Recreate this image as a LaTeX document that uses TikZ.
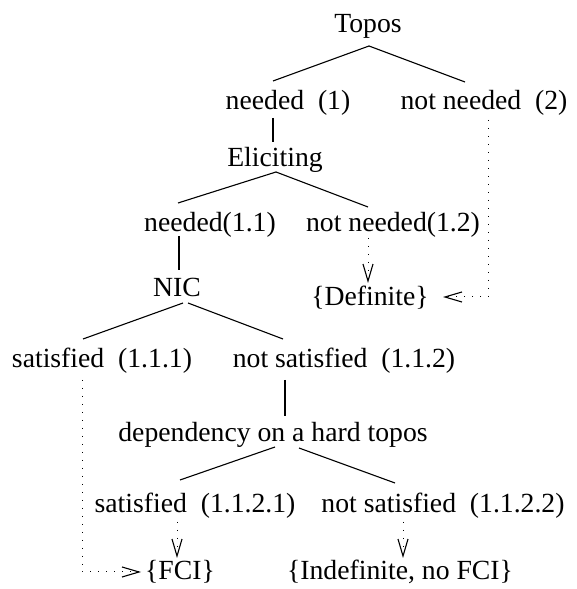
\documentclass[tikz,border=0pt]{standalone}
\usepackage{fontspec}
\setmainfont{Liberation Serif}
\usetikzlibrary{calc,arrows.meta}

\tikzset{
    treetext/.style={inner sep=0pt, anchor=base, font=\fontsize{27.7}{33}\selectfont},
    branch/.style={line width=1.1pt},
    pointer/.style={line width=1pt, dash pattern=on 1.2pt off 6.8pt,
        -{Straight Barb[length=17pt,width=10pt,line width=1.1pt]}}
}

\begin{document}
\begin{tikzpicture}[x=1pt,y=1pt]

    \useasboundingbox (0,0) rectangle (576,589);

    % Ebene 0 und 1
    \node[treetext] (topos) at (368,556) {Topos};
    \node[treetext] (need1) at (288,479) {needed~~(1)};
    \node[treetext] (noneed2) at (484,479) {not needed~~(2)};

    % Eliciting
    \node[treetext] (elic) at (275,422) {Eliciting};
    \node[treetext] (need11) at (210,357) {needed(1.1)};
    \node[treetext] (noneed12) at (393,357) {not needed(1.2)};

    % NIC
    \node[treetext] (nic) at (177,292) {NIC};
    \node[treetext] (defin) at (370,283) {\{Definite\}};
    \node[treetext] (sat111) at (102,221) {satisfied~~(1.1.1)};
    \node[treetext] (nsat112) at (344,221) {not satisfied~~(1.1.2)};

    % harter Topos
    \node[treetext] (dep) at (273,147) {dependency on a hard topos};
    \node[treetext] (sat1121) at (195,76) {satisfied~~(1.1.2.1)};
    \node[treetext] (nsat1122) at (443,76) {not satisfied~~(1.1.2.2)};

    % Ergebnisse
    \node[treetext] (fci) at (180,9) {\{FCI\}};
    \node[treetext] (indef) at (400,9) {\{Indefinite, no FCI\}};

    % Zweige
    \draw[branch] ($(topos.base)+(1,-13)$) -- ($(need1.base)+(-15,29)$);
    \draw[branch] ($(topos.base)+(1,-13)$) -- ($(noneed2.base)+(-19,28)$);
    \draw[branch] ($(need1.base)+(-15,-8)$) -- ($(elic.base)+(-2,25)$);

    \draw[branch] ($(elic.base)+(1,-5)$) -- ($(need11.base)+(-32,29)$);
    \draw[branch] ($(elic.base)+(1,-5)$) -- ($(noneed12.base)+(-25,25)$);
    \draw[branch] ($(need11.base)+(-31,-4)$) -- ($(nic.base)+(2,27)$);

    \draw[branch] ($(nic.base)+(6,-6)$) -- ($(sat111.base)+(-19,29)$);
    \draw[branch] ($(nic.base)+(11,-6)$) -- ($(nsat112.base)+(-61,29)$);
    \draw[branch] ($(nsat112.base)+(-59,-12)$) -- ($(dep.base)+(12,26)$);

    \draw[branch] ($(dep.base)+(2,-5)$) -- ($(sat1121.base)+(-15,33)$);
    \draw[branch] ($(dep.base)+(26,-6)$) -- ($(nsat1122.base)+(-48,30)$);

    % gepunktete Pfeile
    \draw[pointer] ($(noneed2.base)+(4,-10)$) |- ($(defin.base)+(73,9)$);
    \draw[pointer] ($(noneed12.base)+(-25,-6)$) -- ($(defin.base)+(-2,23)$);
    \draw[pointer] ($(sat111.base)+(-20,-12)$) |- ($(fci.base)+(-39,8)$);
    \draw[pointer] ($(sat1121.base)+(-18,-9)$) -- ($(fci.base)+(-3,22)$);
    \draw[pointer] ($(nsat1122.base)+(-40,-9)$) -- ($(indef.base)+(3,22)$);
\end{tikzpicture}
\end{document}
